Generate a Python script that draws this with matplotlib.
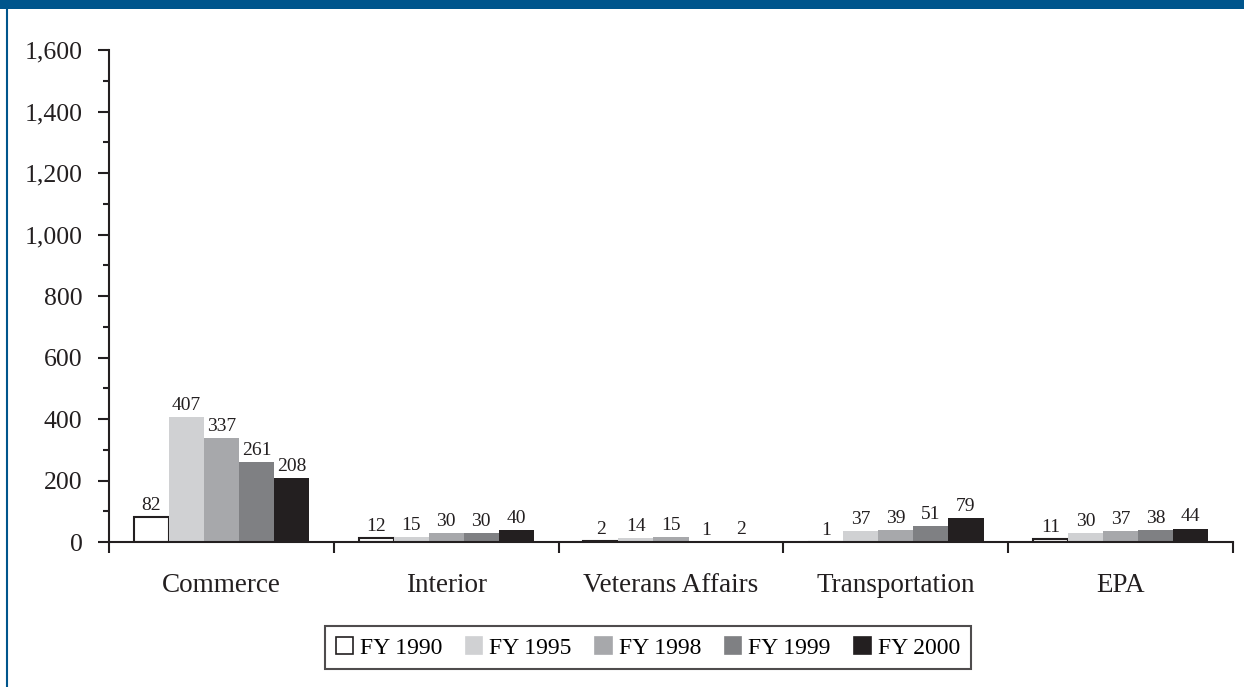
import numpy as np
import matplotlib.pyplot as plt
from matplotlib.patches import Rectangle
from matplotlib.lines import Line2D

agencies = ["Commerce", "Interior", "Veterans Affairs", "Transportation", "EPA"]
years = ["FY 1990", "FY 1995", "FY 1998", "FY 1999", "FY 2000"]
fy1990 = [82, 12, 2, 1, 11]
fy1995 = [407, 15, 14, 37, 30]
fy1998 = [337, 30, 15, 39, 37]
fy1999 = [261, 30, 1, 51, 38]
fy2000 = [208, 40, 2, 79, 44]
series = [fy1990, fy1995, fy1998, fy1999, fy2000]

colors = ["white", "#d0d1d3", "#a7a8ab", "#7f8083", "#231f20"]
blue = "#00558c"

plt.rcParams['font.family'] = ['Liberation Serif', 'DejaVu Serif']

fig = plt.figure(figsize=(12.44, 6.87), dpi=100)
ax = fig.add_axes([0.0876, 0.211, 0.9036, 0.716])

x = np.arange(len(agencies))
w = 0.156
for i, (vals, c) in enumerate(zip(series, colors)):
    pos = x + (i - 2) * w
    ec = "#231f20" if c == "white" else c
    lw = 1.5 if c == "white" else 0
    ax.bar(pos, vals, width=w, color=c, edgecolor=ec, linewidth=lw, label=years[i])
    for p, v in zip(pos, vals):
        ax.text(p, v + 10, str(v), ha="center", va="bottom", fontsize=14, color="#231f20")

ax.set_xlim(-0.5, len(agencies) - 0.5)
ax.set_ylim(0, 1600)
ax.set_yticks(np.arange(0, 1601, 200))
ax.set_yticks(np.arange(100, 1600, 200), minor=True)
ax.set_yticklabels([f"{v:,}" for v in range(0, 1601, 200)], fontsize=18.5, color="#231f20")
ax.tick_params(axis="y", which="major", length=8, width=1.5, pad=11, direction="out", color="#231f20")
ax.tick_params(axis="y", which="minor", length=4, width=1.5, direction="out", color="#231f20")

ax.set_xticks(np.arange(-0.5, len(agencies)))
ax.set_xticklabels([])
ax.set_xticks(x, minor=True)
ax.set_xticklabels(agencies, minor=True, fontsize=19.5, color="#231f20")
ax.tick_params(axis="x", which="major", length=8, width=1.5, direction="out", color="#231f20")
ax.tick_params(axis="x", which="minor", length=0, pad=22)

for s in ["top", "right"]:
    ax.spines[s].set_visible(False)
for s in ["left", "bottom"]:
    ax.spines[s].set_linewidth(1.5)
    ax.spines[s].set_color("#231f20")

handles = [Rectangle((0, 0), 1, 1, facecolor=c, edgecolor="#231f20" if c == "white" else c, linewidth=1.2)
           for c in colors]
leg = fig.legend(handles, years, loc="center", bbox_to_anchor=(0.521, 0.057), ncol=5,
                 fontsize=17, frameon=True, fancybox=False, edgecolor="#231f20",
                 handlelength=0.7, handleheight=0.7, handletextpad=0.3, columnspacing=1.0,
                 borderpad=0.45)
leg.get_frame().set_linewidth(1.5)

# header bar and left border
fig.patches.append(Rectangle((0, 1 - 9 / 687), 1, 9 / 687, transform=fig.transFigure,
                             facecolor=blue, edgecolor="none"))
fig.lines.append(Line2D([7.5 / 1244, 7.5 / 1244], [0, 1], transform=fig.transFigure,
                        color=blue, linewidth=1.5))

fig.savefig("out.png", dpi=100)
